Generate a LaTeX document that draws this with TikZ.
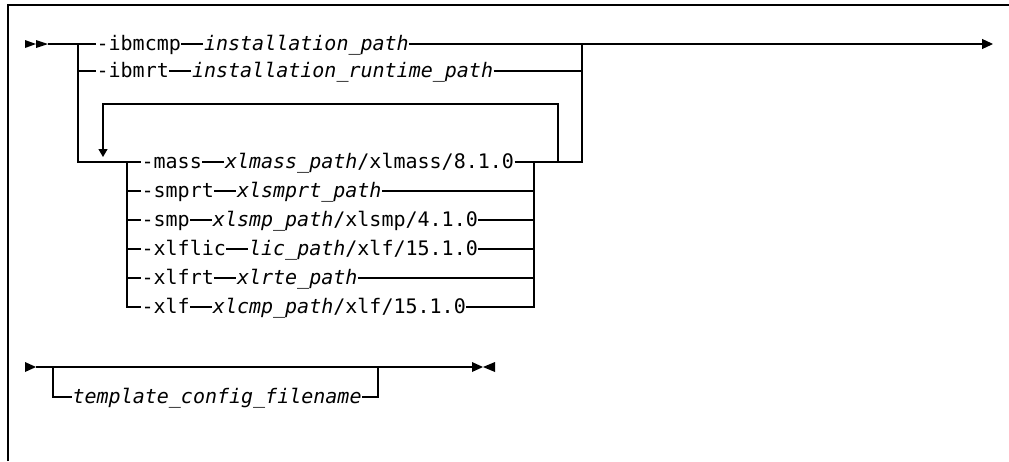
\documentclass[tikz,border=0pt]{standalone}
\usepackage{fontspec}
\setmainfont{DejaVu Sans Mono}
\usetikzlibrary{arrows.meta,positioning,calc}
\newcommand{\railgap}{22pt}
\newcommand{\railfont}{\fontsize{20}{24}\selectfont}
\tikzset{
    railsty/.style={line width=1.2pt},
    framesty/.style={line width=1.6pt},
    kwsty/.style={inner sep=0pt,anchor=west,text height=15pt,text depth=3pt,font=\railfont},
    varsty/.style={kwsty,font=\railfont\itshape},
    loopsty/.style={-{Triangle[length=8pt,width=9pt]}},
}

\begin{document}
\begin{tikzpicture}[>={Triangle[length=11pt,width=10pt]}, x=1pt, y=-1pt, railsty]
  \useasboundingbox (0,0) rectangle (1009,461);
  \draw[framesty] (8,461) -- (8,5) -- (1009,5);

  \coordinate (start1) at (48,44);
  \coordinate (split1) at (78,44);
  \coordinate (join1)  at (582,44);
  \coordinate (end1)   at (993,44);
  \coordinate (split2) at (127,162);
  \coordinate (join2)  at (534,162);
  \coordinate (join3)  at (558,162);
  \coordinate (loopl)  at (103,104);
  \coordinate (looptip) at (103,157);

  \fill (25,40) -- (36,44) -- (25,48) -- cycle;
  \fill (36,40) -- (48,44) -- (36,48) -- cycle;

  \node[kwsty] (ibmcmp) at (96,44) {-ibmcmp};
  \node[varsty, right=\railgap of ibmcmp] (ibmcmpv) {installation\_path};
  \node[kwsty] (ibmrt) at (96,71) {-ibmrt};
  \node[varsty, right=\railgap of ibmrt] (ibmrtv) {installation\_runtime\_path};

  \node[kwsty] (mass) at (141,162) {-mass};
  \node[kwsty, right=\railgap of mass] (massv) {{\itshape xlmass\_path}/xlmass/8.1.0};
  \node[kwsty] (smprt) at (141,191) {-smprt};
  \node[varsty, right=\railgap of smprt] (smprtv) {xlsmprt\_path};
  \node[kwsty] (smp) at (141,220) {-smp};
  \node[kwsty, right=\railgap of smp] (smpv) {{\itshape xlsmp\_path}/xlsmp/4.1.0};
  \node[kwsty] (xlflic) at (141,249) {-xlflic};
  \node[kwsty, right=\railgap of xlflic] (xlflicv) {{\itshape lic\_path}/xlf/15.1.0};
  \node[kwsty] (xlfrt) at (141,278) {-xlfrt};
  \node[varsty, right=\railgap of xlfrt] (xlfrtv) {xlrte\_path};
  \node[kwsty] (xlf) at (141,307) {-xlf};
  \node[kwsty, right=\railgap of xlf] (xlfv) {{\itshape xlcmp\_path}/xlf/15.1.0};

  \draw (start1) -- (ibmcmp);
  \draw (ibmcmp) -- (ibmcmpv);
  \draw[->] (ibmcmpv) -- (end1);
  \draw (split1) |- (ibmrt);
  \draw (ibmrt) -- (ibmrtv);
  \draw (ibmrtv) -| (join1);
  \draw (split1) |- (split2) -- (mass);
  \foreach \kw in {smprt,smp,xlflic,xlfrt,xlf}
    \draw (split2) |- (\kw);
  \foreach \kw in {mass,smprt,smp,xlflic,xlfrt,xlf}
    \draw (\kw) -- (\kw v);
  \draw (massv) -- (join2);
  \foreach \kw in {smprt,smp,xlflic,xlfrt,xlf}
    \draw (\kw v) -| (join2);
  \draw (join2) -- (join3) -| (join1);
  \draw[loopsty] (join3) |- (loopl) -- (looptip);

  \coordinate (start2) at (36,367);
  \coordinate (split3) at (53,367);
  \coordinate (join4)  at (378,367);
  \coordinate (end2)   at (472,367);
  \fill (25,362) -- (36,367) -- (25,372) -- cycle;
  \node[varsty] (tmpl) at (72,397) {template\_config\_filename};
  \draw (start2) -- (end2);
  \draw (split3) |- (tmpl);
  \draw (tmpl) -| (join4);
  \fill (472,362) -- (483,367) -- (472,372) -- cycle;
  \fill (495,362) -- (483,367) -- (495,372) -- cycle;
\end{tikzpicture}
\end{document}
